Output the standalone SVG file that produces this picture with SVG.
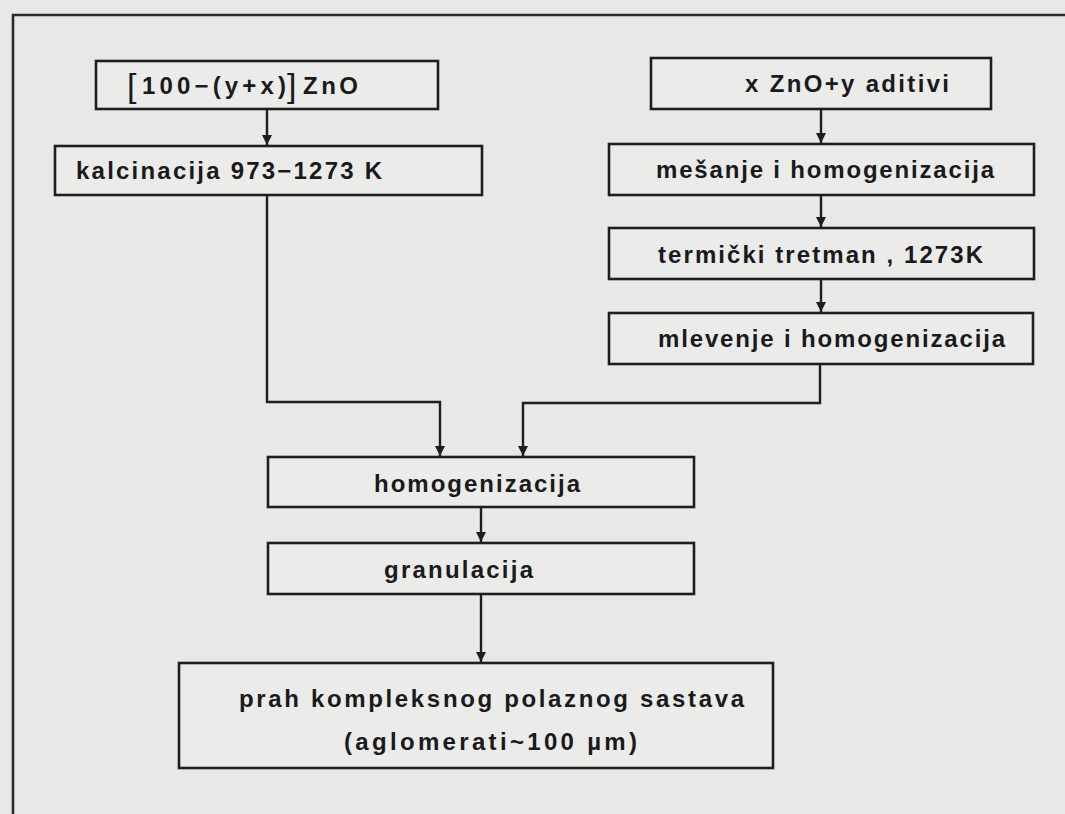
<svg xmlns="http://www.w3.org/2000/svg" width="1065" height="814" viewBox="0 0 1065 814">
<style>
.bg{fill:#e8e8e6}
.box{fill:#ebebe9;stroke:#1e1e1e;stroke-width:2.6}
.t{font-family:"Liberation Sans",Arial,sans-serif;font-weight:bold;font-size:24px;fill:#1a1a1a}
.c{fill:none;stroke:#1e1e1e;stroke-width:2.4}
.frame{fill:none;stroke:#2a2a2a;stroke-width:2.6}
</style>
<defs>
<marker id="ah" markerUnits="userSpaceOnUse" markerWidth="12" markerHeight="12" viewBox="0 0 12 12" refX="11" refY="6" orient="auto">
<path d="M1,1 L11,6 L1,11 Z" fill="#1e1e1e"/>
</marker>
</defs>
<rect class="bg" x="0" y="0" width="1065" height="814"/>
<path class="frame" d="M13,816 L13,15 L1066,15"/>

<g id="n1"><rect class="box" x="96" y="61" width="342" height="48"/>
<text class="t" y="94"><tspan x="127" font-weight="normal" font-size="34" dy="3">[</tspan><tspan x="142" dy="-3" textLength="144" lengthAdjust="spacing">100−(y+x)</tspan><tspan x="287" font-weight="normal" font-size="34" dy="3">]</tspan><tspan x="303" dy="-3" textLength="55" lengthAdjust="spacing">ZnO</tspan></text></g>

<g id="n2"><rect class="box" x="55" y="146" width="427" height="49"/>
<text class="t" x="76" y="179" textLength="306" lengthAdjust="spacing">kalcinacija  973−1273 K</text></g>

<g id="n3"><rect class="box" x="651" y="58" width="340" height="51"/>
<text class="t" x="745" y="92" textLength="204" lengthAdjust="spacing">x ZnO+y aditivi</text></g>

<g id="n4"><rect class="box" x="609" y="144" width="425" height="51"/>
<text class="t" x="656" y="178" textLength="338" lengthAdjust="spacing">mešanje  i  homogenizacija</text></g>

<g id="n5"><rect class="box" x="609" y="228" width="425" height="51"/>
<text class="t" x="658" y="263" textLength="325" lengthAdjust="spacing">termički  tretman , 1273K</text></g>

<g id="n6"><rect class="box" x="609" y="313" width="424" height="51"/>
<text class="t" x="658" y="347" textLength="347" lengthAdjust="spacing">mlevenje  i  homogenizacija</text></g>

<g id="n7"><rect class="box" x="268" y="457" width="426" height="50"/>
<text class="t" x="374" y="492" textLength="206" lengthAdjust="spacing">homogenizacija</text></g>

<g id="n8"><rect class="box" x="268" y="543" width="426" height="51"/>
<text class="t" x="384" y="578" textLength="149" lengthAdjust="spacing">granulacija</text></g>

<g id="n9"><rect class="box" x="179" y="663" width="594" height="105"/>
<text class="t" x="239" y="707" textLength="505" lengthAdjust="spacing">prah  kompleksnog  polaznog  sastava</text>
<text class="t" x="344" y="750" textLength="293" lengthAdjust="spacing">(aglomerati~100 µm)</text></g>

<g id="connectors">
<path class="c" d="M267,109 L267,145" marker-end="url(#ah)"/>
<path class="c" d="M821,109 L821,143" marker-end="url(#ah)"/>
<path class="c" d="M821,195 L821,227" marker-end="url(#ah)"/>
<path class="c" d="M821,279 L821,312" marker-end="url(#ah)"/>
<path class="c" d="M267,195 L267,402 L440,402 L440,456" marker-end="url(#ah)"/>
<path class="c" d="M820,364 L820,403 L523,403 L523,456" marker-end="url(#ah)"/>
<path class="c" d="M481,507 L481,542" marker-end="url(#ah)"/>
<path class="c" d="M481,594 L481,662" marker-end="url(#ah)"/>
</g>
</svg>
